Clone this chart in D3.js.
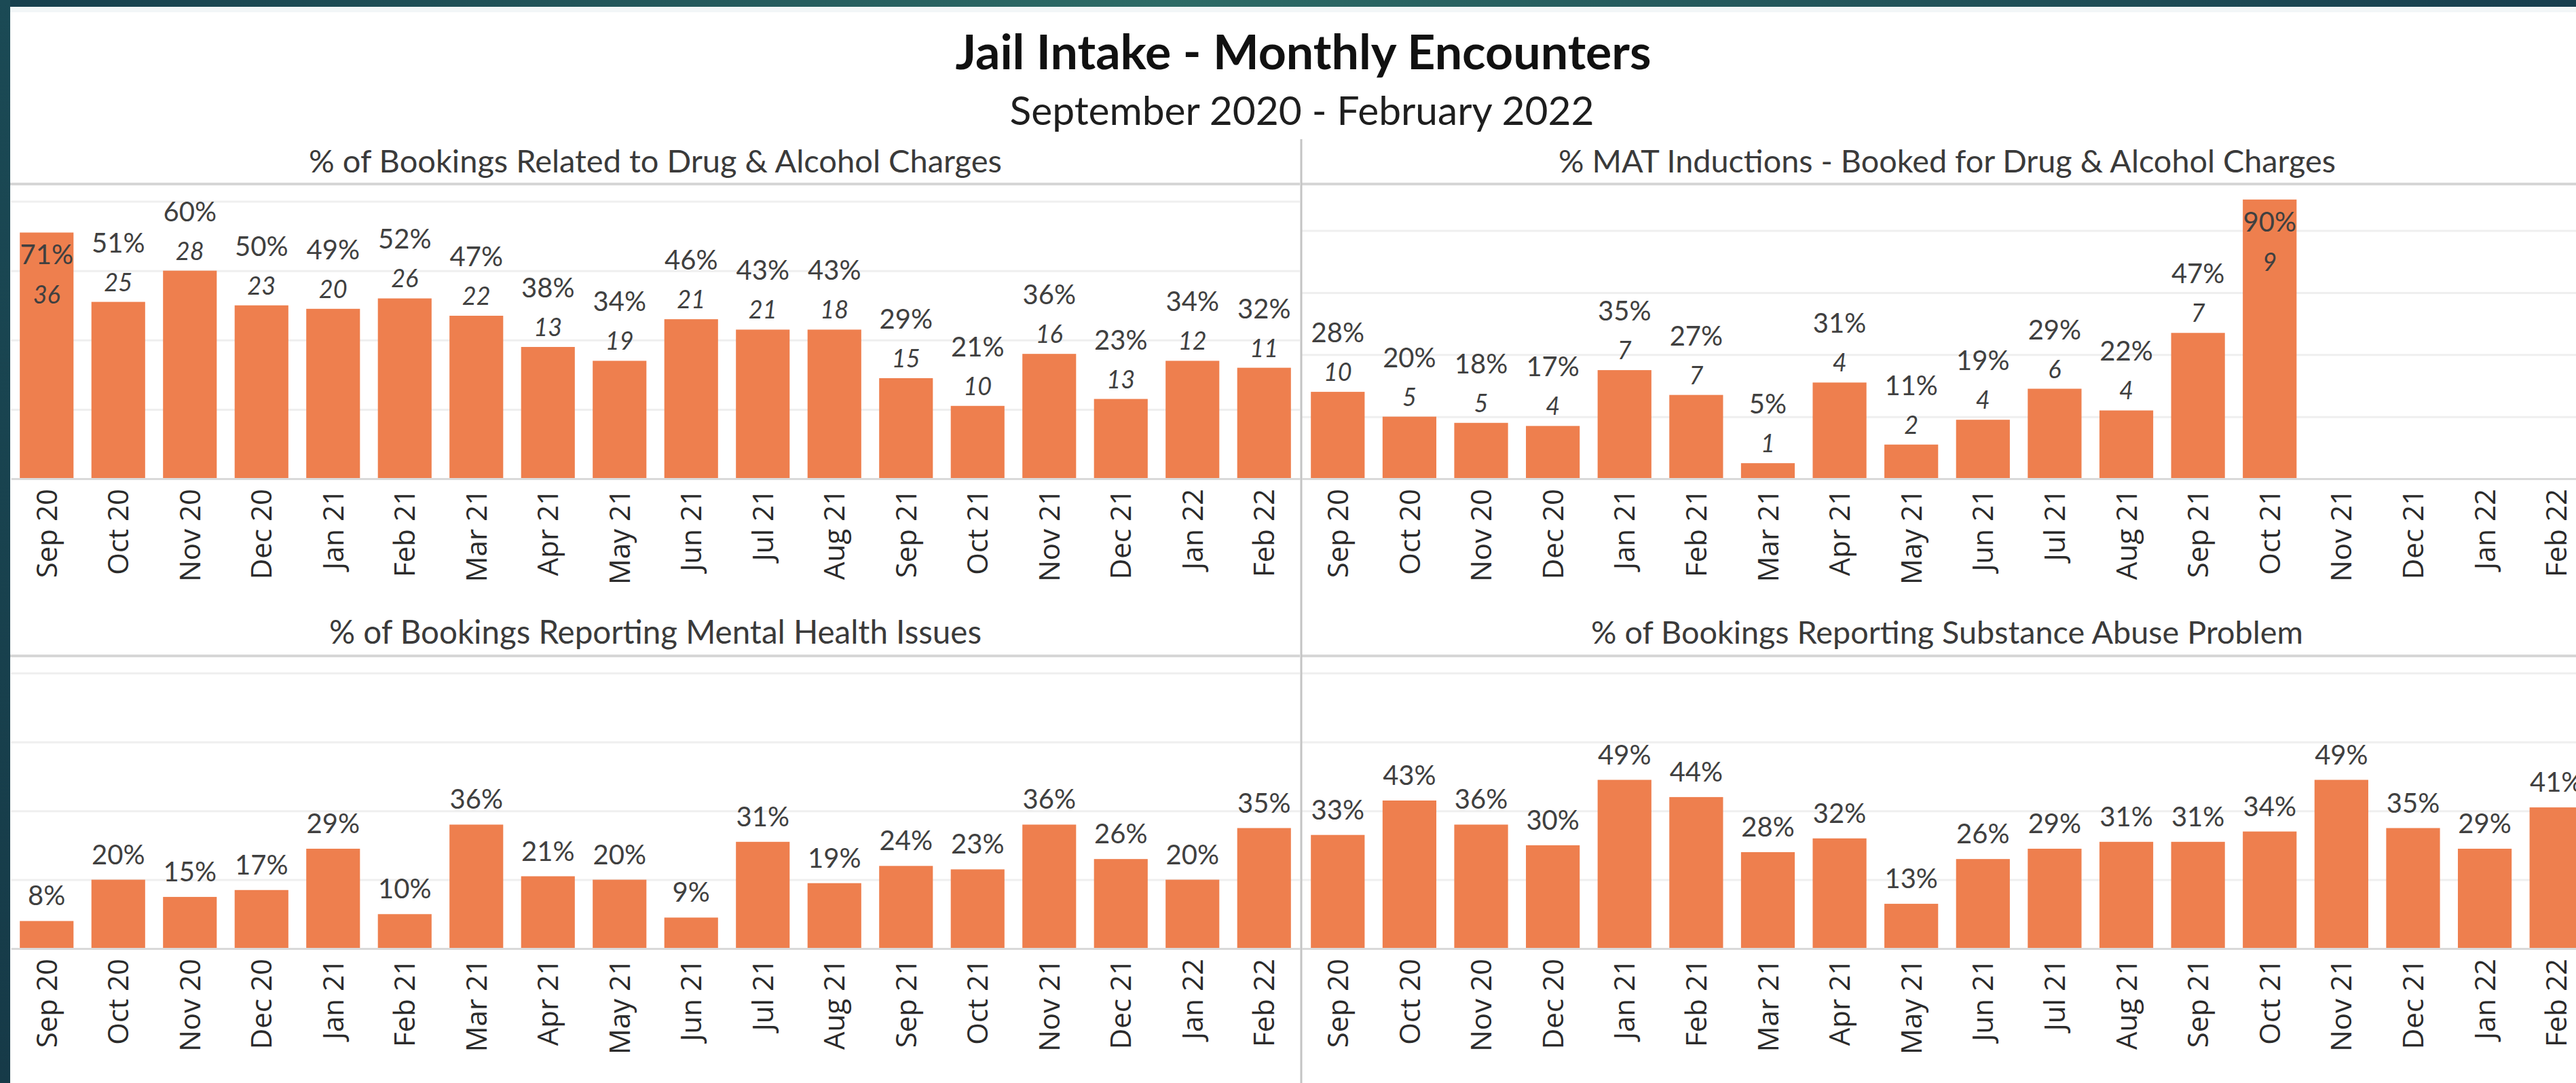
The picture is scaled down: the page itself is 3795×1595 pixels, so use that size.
<!DOCTYPE html>
<html>
<head>
<meta charset="utf-8">
<script src="https://cdn.jsdelivr.net/npm/d3@7"></script>
<style>
html,body{margin:0;padding:0;background:#fff;overflow:hidden}
svg{display:block}
</style>
</head>
<body>
<svg id="chart" width="3795" height="1595"></svg>
<script>
// ---------------- DATA ----------------
const months = ["Sep 20","Oct 20","Nov 20","Dec 20","Jan 21","Feb 21","Mar 21","Apr 21","May 21",
                "Jun 21","Jul 21","Aug 21","Sep 21","Oct 21","Nov 21","Dec 21","Jan 22","Feb 22"];

const chartTitle = "Jail Intake - Monthly Encounters";
const chartSubtitle = "September 2020 - February 2022";

const drugTitle = "% of Bookings Related to Drug & Alcohol Charges";
const drugPct   = [71,51,60,50,49,52,47,38,34,46,43,43,29,21,36,23,34,32];
const drugCount = [36,25,28,23,20,26,22,13,19,21,21,18,15,10,16,13,12,11];

const matTitle = "% MAT Inductions - Booked for Drug & Alcohol Charges";
const matPct   = [28,20,18,17,35,27,5,31,11,19,29,22,47,90,null,null,null,null];
const matCount = [10,5,5,4,7,7,1,4,2,4,6,4,7,9,null,null,null,null];

const mentalTitle = "% of Bookings Reporting Mental Health Issues";
const mentalPct   = [8,20,15,17,29,10,36,21,20,9,31,19,24,23,36,26,20,35];

const substanceTitle = "% of Bookings Reporting Substance Abuse Problem";
const substancePct   = [33,43,36,30,49,44,28,32,13,26,29,31,31,34,49,35,29,41];

const gridTicks = [0.2, 0.4, 0.6, 0.8];

// ---------------- LAYOUT ----------------
const W = 3795, H = 1595;
const BAR = "#EE7F4E";
const LABEL = "#404040";
const FONT = "Lato, 'Open Sans', sans-serif";
const TICKFONT = "'Open Sans', 'Noto Sans', sans-serif";

const svg = d3.select("#chart");
svg.append("rect").attr("width", W).attr("height", H).attr("fill", "#ffffff");

const defs = svg.append("defs");
const gTop = defs.append("linearGradient").attr("id","tealTop")
  .attr("x1",0).attr("x2",1).attr("y1",0).attr("y2",0);
gTop.append("stop").attr("offset","0").attr("stop-color","#163f4d");
gTop.append("stop").attr("offset","0.45").attr("stop-color","#2d6b66");
gTop.append("stop").attr("offset","1").attr("stop-color","#173e4e");
const gLeft = defs.append("linearGradient").attr("id","tealLeft")
  .attr("x1",0).attr("x2",0).attr("y1",0).attr("y2",1);
gLeft.append("stop").attr("offset","0").attr("stop-color","#1b4a55");
gLeft.append("stop").attr("offset","1").attr("stop-color","#163a48");

svg.append("rect").attr("x",0).attr("y",0).attr("width",W).attr("height",10).attr("fill","url(#tealTop)");
svg.append("rect").attr("x",0).attr("y",10).attr("width",W).attr("height",8).attr("fill","#f2f6f7");
svg.append("rect").attr("x",0).attr("y",0).attr("width",15).attr("height",H).attr("fill","url(#tealLeft)");

function fitText(sel, target) {
  const w = sel.node().getComputedTextLength();
  const fs = parseFloat(sel.attr("font-size"));
  if (w > 0) sel.attr("font-size", (fs * target / w).toFixed(2));
}

// Titles
const t1 = svg.append("text").attr("x", 1920).attr("y", 102)
  .attr("text-anchor","middle").attr("font-family", FONT).attr("font-weight", 700)
  .attr("font-size", 60).attr("fill", "#111").text(chartTitle);
fitText(t1, 1025);
const t2 = svg.append("text").attr("x", 1918).attr("y", 184)
  .attr("text-anchor","middle").attr("font-family", FONT)
  .attr("font-size", 56).attr("fill", "#1e1e1e").text(chartSubtitle);
fitText(t2, 861);

const panels = [
  {title: drugTitle, pct: drugPct, cnt: drugCount, x0: 16, x1: 1915, top: 271, base: 705, max: 0.85, titleY: 254, titleW: 1021},
  {title: matTitle, pct: matPct, cnt: matCount, x0: 1918, x1: 3819, top: 271, base: 705, max: 0.95, titleY: 254, titleW: 1145},
  {title: mentalTitle, pct: mentalPct, cnt: null, x0: 16, x1: 1915, top: 966, base: 1397, max: 0.85, titleY: 948, titleW: 961},
  {title: substanceTitle, pct: substancePct, cnt: null, x0: 1918, x1: 3819, top: 966, base: 1397, max: 0.85, titleY: 948, titleW: 1049}
];

panels.forEach(p => {
  const g = svg.append("g");
  const x = d3.scaleBand().domain(months).range([p.x0, p.x1]).paddingInner(0.25).paddingOuter(0.125);
  const y = d3.scaleLinear().domain([0, p.max]).range([p.base, p.top]);

  // gridlines
  const grid = g.append("g").attr("transform", `translate(${p.x0},0)`)
    .call(d3.axisRight(y).tickValues(gridTicks).tickSize(p.x1 - p.x0).tickFormat(""));
  grid.select(".domain").remove();
  grid.selectAll("line").attr("stroke", "#efefef").attr("stroke-width", 3);

  // title + underline
  const tt = g.append("text").attr("x", (p.x0 + p.x1) / 2).attr("y", p.titleY)
    .attr("text-anchor","middle").attr("font-family", FONT).attr("font-size", 40)
    .attr("fill", "#3a3a3a").text(p.title);
  fitText(tt, p.titleW);
  g.append("line").attr("x1", p.x0 === 16 ? 15 : p.x0).attr("x2", p.x1)
    .attr("y1", p.top).attr("y2", p.top).attr("stroke", "#d6d6d6").attr("stroke-width", 4);

  // bars
  const data = months.map((m, i) => ({m, v: p.pct[i], c: p.cnt ? p.cnt[i] : null})).filter(d => d.v != null);
  g.selectAll("rect.bar").data(data).join("rect").attr("class","bar")
    .attr("x", d => x(d.m)).attr("width", x.bandwidth())
    .attr("y", d => y(d.v / 100)).attr("height", d => p.base - y(d.v / 100))
    .attr("fill", BAR);

  // x axis
  const ax = g.append("g").attr("transform", `translate(0,${p.base})`)
    .call(d3.axisBottom(x).tickSize(0).tickSizeOuter(0));
  ax.select(".domain").attr("stroke", "#d9d9d9").attr("stroke-width", 3);
  ax.selectAll("text")
    .attr("transform", "rotate(-90)")
    .attr("x", -15).attr("y", 0).attr("dy", "0.36em")
    .style("text-anchor", "end")
    .attr("font-family", TICKFONT).attr("font-size", 42).attr("fill", "#2b2b2b");

  // labels
  const lab = g.append("g").attr("font-family", FONT).attr("fill", LABEL).attr("text-anchor", "middle");
  data.forEach(d => {
    const cx = x(d.m) + x.bandwidth() / 2;
    const top = y(d.v / 100);
    if (p.cnt) {
      const inside = (top - 73 - 32) < p.top;
      lab.append("text").attr("x", cx).attr("y", inside ? top + 47 : top - 73)
        .attr("font-size", 40).text(d.v + "%");
      lab.append("text").attr("x", cx).attr("y", inside ? top + 105 : top - 16)
        .attr("font-size", 36).attr("font-style", "italic").text(d.c);
    } else {
      lab.append("text").attr("x", cx).attr("y", top - 23)
        .attr("font-size", 40).text(d.v + "%");
    }
  });
});

// vertical divider
svg.append("line").attr("x1", 1917).attr("x2", 1917).attr("y1", 205).attr("y2", H)
  .attr("stroke", "#c4c4c4").attr("stroke-width", 3);
</script>
</body>
</html>
